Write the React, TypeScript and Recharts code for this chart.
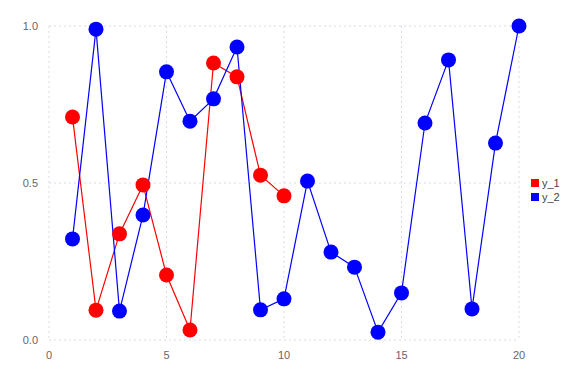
import { LineChart, Line, XAxis, YAxis, CartesianGrid } from "recharts";

const xValues = [1, 2, 3, 4, 5, 6, 7, 8, 9, 10, 11, 12, 13, 14, 15, 16, 17, 18, 19, 20];
const y1Values = [0.71, 0.095, 0.338, 0.494, 0.207, 0.032, 0.882, 0.838, 0.525, 0.459];
const y2Values = [
  0.322, 0.99, 0.092, 0.398, 0.854, 0.697, 0.768, 0.933, 0.096, 0.131,
  0.506, 0.28, 0.232, 0.025, 0.15, 0.691, 0.892, 0.099, 0.627, 1.0,
];
const xTicks = [0, 5, 10, 15, 20];
const yTicks = [0, 0.5, 1];
const seriesNames = ["y_1", "y_2"];
const seriesColors = ["#ff0000", "#0000ff"];

const data = xValues.map((x, i) => ({
  x,
  y_1: i < y1Values.length ? y1Values[i] : undefined,
  y_2: y2Values[i],
}));

const tickStyle = { fill: "#666", fontSize: 11, fontFamily: "Arial, 'Liberation Sans', sans-serif" };

const App = () => {
  return (
    <div style={{ position: "absolute", left: 0, top: 0, width: 576, height: 384, background: "#fff" }}>
      <LineChart width={576} height={384} data={data} margin={{ top: 26, right: 57, bottom: 0, left: 0 }}>
        <CartesianGrid stroke="#d9d9e6" strokeDasharray="2 3" />
        <XAxis
          dataKey="x"
          type="number"
          domain={[0, 20]}
          ticks={xTicks}
          axisLine={false}
          tickLine={false}
          tickMargin={5}
          height={44}
          tick={tickStyle}
        />
        <YAxis
          type="number"
          domain={[0, 1]}
          ticks={yTicks}
          axisLine={false}
          tickLine={false}
          tickMargin={5}
          width={49}
          tick={tickStyle}
          tickFormatter={(v: number) => v.toFixed(1)}
        />
        {seriesNames.map((name, i) => (
          <Line
            key={name}
            dataKey={name}
            type="linear"
            stroke={seriesColors[i]}
            strokeWidth={1.2}
            dot={{ r: 7.5, fill: seriesColors[i], stroke: seriesColors[i], strokeWidth: 0 }}
            activeDot={false}
            isAnimationActive={false}
          />
        ))}
      </LineChart>
      <div style={{ position: "absolute", left: 531, top: 176, ...tickStyle, color: "#444" }}>
        {seriesNames.map((name, i) => (
          <div key={name} style={{ display: "flex", alignItems: "center", height: 14 }}>
            <span style={{ width: 8, height: 8, background: seriesColors[i], marginRight: 3 }} />
            <span>{name}</span>
          </div>
        ))}
      </div>
    </div>
  );
};

export default App;
